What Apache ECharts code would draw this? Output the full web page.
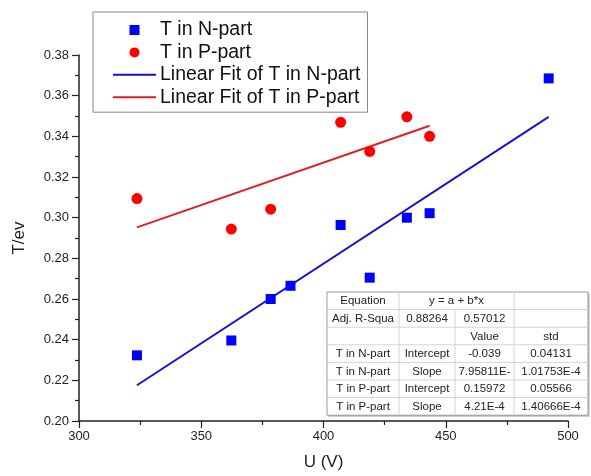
<!DOCTYPE html>
<html>
<head>
<meta charset="utf-8">
<script src="https://cdn.jsdelivr.net/npm/echarts@6/dist/echarts.min.js"></script>
<style>
html, body { margin: 0; padding: 0; background: #fff; }
#graph { width: 591px; height: 476px; }
</style>
</head>
<body>
<div id="graph"></div>
<script>
"use strict"

// measured points, U (V) and T (eV)
const nU = [323.7, 362.3, 378.4, 386.5, 407.0, 418.9, 434.1, 443.4, 492.1];
const nT = [0.2323, 0.2396, 0.2600, 0.2665, 0.2964, 0.2705, 0.3000, 0.3022, 0.3685];
const pU = [323.7, 362.3, 378.4, 407.0, 418.9, 434.1, 443.4];
const pT = [0.3094, 0.2944, 0.3042, 0.3469, 0.3326, 0.3496, 0.3400];

// fitted lines, end points
const nFitU = [323.7, 492.1];
const nFitT = [0.2176, 0.3496];
const pFitU = [323.7, 443.4];
const pFitT = [0.2952, 0.3452];

const names = ["T in N-part", "T in P-part", "Linear Fit of T in N-part", "Linear Fit of T in P-part"];

const tableRows = [
    ["Equation", "y = a + b*x", null, ""],
    ["Adj. R-Squa", "0.88264", "0.57012", ""],
    ["", "", "Value", "std"],
    ["T in N-part", "Intercept", "-0.039", "0.04131"],
    ["T in N-part", "Slope", "7.95811E-", "1.01753E-4"],
    ["T in P-part", "Intercept", "0.15972", "0.05566"],
    ["T in P-part", "Slope", "4.21E-4", "1.40666E-4"]
];

const font = "'Liberation Sans', Arial, sans-serif";

function buildTable(x0, y0, colW, rowH)
{
    const children = [];
    const totalW = colW.reduce((a, c) => a + c, 0);
    const totalH = rowH * tableRows.length;
    const colX = [x0];
    colW.forEach(w => colX.push(colX[colX.length - 1] + w));
    // shadow + frame
    children.push({ type: "rect", shape: { x: x0 + 1.5, y: y0 + 1.5, width: totalW, height: totalH }, style: { fill: "#bbb" } });
    children.push({ type: "rect", shape: { x: x0, y: y0, width: totalW, height: totalH }, style: { fill: "#fff", stroke: "#999", lineWidth: 1 } });
    for (let r = 1; r < tableRows.length; r++)
        children.push({ type: "line", shape: { x1: x0, y1: y0 + r * rowH, x2: x0 + totalW, y2: y0 + r * rowH }, style: { stroke: "#d4d4d4", lineWidth: 1 } });
    for (let c = 1; c < colW.length; c++)
    {
        tableRows.forEach((row, r) =>
        {
            if (row[c] === null) return;
            children.push({ type: "line", shape: { x1: colX[c], y1: y0 + r * rowH, x2: colX[c], y2: y0 + (r + 1) * rowH }, style: { stroke: "#d4d4d4", lineWidth: 1 } });
        });
    }
    tableRows.forEach((row, r) =>
    {
        row.forEach((txt, c) =>
        {
            if (txt === null || txt === "") return;
            let cx = (colX[c] + colX[c + 1]) / 2;
            if (row[c + 1] === null) cx = (colX[c] + colX[c + 2]) / 2;
            children.push({
                type: "text",
                style: { text: txt, x: cx, y: y0 + r * rowH + rowH / 2 + 0.5, align: "center", verticalAlign: "middle", font: "11.5px " + font, fill: "#222" }
            });
        });
    });
    return { type: "group", children: children };
}

const myChart = echarts.init(document.getElementById("graph"), null, { renderer: "canvas" });

const axisCommon = {
    axisLine: { show: true, onZero: false, lineStyle: { color: "#222", width: 1.5 } },
    axisTick: { show: true, inside: false, length: 7, lineStyle: { color: "#222", width: 1.2 } },
    minorTick: { show: true, splitNumber: 2, length: 4, lineStyle: { color: "#222", width: 1.2 } },
    splitLine: { show: false },
    minorSplitLine: { show: false },
    nameLocation: "middle",
    nameTextStyle: { fontSize: 17, fontFamily: font, color: "#222" }
};

const squareIcon = "path://M0,0 L10,0 L10,10 L0,10 Z";
const lineIcon = "path://M0,0 L43,0 L43,2 L0,2 Z";

const option = {
    animation: false,
    backgroundColor: "#fff",
    grid: { left: 79, right: 23, top: 55, bottom: 53, containLabel: false },
    legend: {
        orient: "vertical",
        left: 93,
        top: 12,
        padding: [7, 7, 4, 20],
        itemWidth: 43,
        itemHeight: 10,
        itemGap: 0.4,
        borderColor: "#888",
        borderWidth: 1,
        textStyle: { fontSize: 19.5, lineHeight: 22, fontFamily: font, color: "#111", padding: [0, 0, 0, -1] },
        data: [
            { name: names[0], icon: squareIcon },
            { name: names[1], icon: "circle" },
            { name: names[2], icon: lineIcon },
            { name: names[3], icon: lineIcon }
        ]
    },
    xAxis: Object.assign({}, axisCommon, {
        type: "value",
        min: 300, max: 500, interval: 50,
        name: "U (V)",
        nameGap: 33,
        axisLabel: { fontSize: 13, fontFamily: font, color: "#222", margin: 9 }
    }),
    yAxis: Object.assign({}, axisCommon, {
        type: "value",
        min: 0.20, max: 0.38, interval: 0.02,
        name: "T/ev",
        nameGap: 51,
        axisLabel: { fontSize: 13, fontFamily: font, color: "#222", margin: 10, formatter: v => v.toFixed(2) }
    }),
    series: [
        {
            name: names[0], type: "scatter", symbol: "rect", symbolSize: 10,
            itemStyle: { color: "#0000ff", opacity: 1 },
            data: nU.map((u, i) => [u, nT[i]]), z: 3
        },
        {
            name: names[1], type: "scatter", symbol: "circle", symbolSize: 11,
            itemStyle: { color: "#ff0000", opacity: 1 },
            data: pU.map((u, i) => [u, pT[i]]), z: 3
        },
        {
            name: names[2], type: "line", symbol: "none",
            lineStyle: { color: "#1515c8", width: 2 },
            itemStyle: { color: "#1515c8" },
            data: nFitU.map((u, i) => [u, nFitT[i]]), z: 2
        },
        {
            name: names[3], type: "line", symbol: "none",
            lineStyle: { color: "#dd2020", width: 2 },
            itemStyle: { color: "#dd2020" },
            data: pFitU.map((u, i) => [u, pFitT[i]]), z: 2
        }
    ],
    graphic: [buildTable(327, 292, [72, 56, 59, 74], 17.6)]
};
myChart.setOption(option);
</script>
</body>
</html>
